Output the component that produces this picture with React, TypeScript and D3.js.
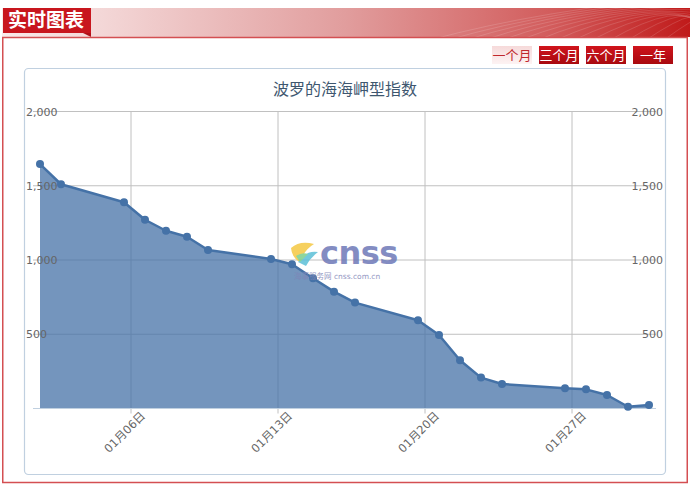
import React from "react";
import * as d3 from "d3";

const days = [2, 3, 6, 7, 8, 9, 10, 13, 14, 15, 16, 17, 20, 21, 22, 23, 24, 27, 28, 29, 30, 31];
const values = [1646, 1510, 1389, 1271, 1197, 1157, 1067, 1007, 971, 877, 787, 713, 594, 495, 325, 208, 165, 136, 129, 91, 12, 24];
const tickDays = [6, 13, 20, 27];
const yTicks = [0, 500, 1000, 1500, 2000];
const buttons = ["一个月", "三个月", "六个月", "一年"];
const title = "波罗的海海岬型指数";
const header = "实时图表";

const H8 = 8 * 3600 * 1000;
const dataDates = days.map((d) => new Date(Date.UTC(2014, 0, d) - H8));
const tickDates = tickDays.map((d) => new Date(Date.UTC(2014, 0, d)));

const fmtTick = (d: Date) => {
  const m = String(d.getUTCMonth() + 1).padStart(2, "0");
  const dd = String(d.getUTCDate()).padStart(2, "0");
  return `${m}月${dd}日`;
};

export default function App() {
  const x = d3.scaleTime().domain([dataDates[0], dataDates[dataDates.length - 1]]).range([40, 649]);
  const y = d3.scaleLinear().domain([0, 2000]).range([408.5, 111.5]);
  const pts = dataDates.map((d, i) => [x(d), y(values[i])] as [number, number]);
  const line = d3.line<[number, number]>().x((p) => p[0]).y((p) => p[1]);
  const area = d3.area<[number, number]>().x((p) => p[0]).y0(y(0)).y1((p) => p[1]);
  const numFmt = d3.format(",");
  const font = "'DejaVu Sans', 'Noto Sans CJK SC', sans-serif";
  const cjk = "'Noto Sans CJK SC', sans-serif";
  const btnX = [492, 539, 586, 633];

  return (
    <svg width={693} height={488} style={{ position: "absolute", left: 0, top: 0 }}>
      <defs>
        <linearGradient id="hdr" x1="0" x2="1" y1="0" y2="0">
          <stop offset="0" stopColor="#f9eaea" />
          <stop offset="0.15" stopColor="#f3d6d6" />
          <stop offset="0.5" stopColor="#e19d9d" />
          <stop offset="0.8" stopColor="#d25c5c" />
          <stop offset="1" stopColor="#c01a1a" />
        </linearGradient>
        <linearGradient id="btn0" x1="0" x2="0" y1="0" y2="1">
          <stop offset="0" stopColor="#f6dada" />
          <stop offset="1" stopColor="#fdf3f3" />
        </linearGradient>
        <linearGradient id="btn1" x1="0" x2="0" y1="0" y2="1">
          <stop offset="0" stopColor="#d0141c" />
          <stop offset="1" stopColor="#a80a10" />
        </linearGradient>
        <clipPath id="hclip">
          <rect x={2} y={8} width={688} height={29} />
        </clipPath>
      </defs>
      <rect width={693} height={488} fill="#fff" />
      {/* header */}
      <rect x={2} y={8} width={688} height={29} fill="url(#hdr)" />
      <g clipPath="url(#hclip)" stroke="#fff" fill="none" strokeOpacity={0.18} strokeWidth={0.8}>
        {d3.range(14).map((i) => (
          <path key={i} d={`M${430 + i * 18},40 Q${540 + i * 14},${10 - i} ${700},${-5 + i * 3}`} />
        ))}
      </g>
      <rect x={3} y={8} width={88} height={25} fill="#c8161e" />
      <path d="M83,33 L91,33 L91,37 Z" fill="#b01018" />
      <text x={8} y={27} fill="#fff" fontSize={19} fontWeight="bold" fontFamily={cjk}>{header}</text>
      {/* content frame */}
      <rect x={2.75} y={37.5} width={684.5} height={445} fill="#fff" stroke="#d44f52" strokeWidth={1.5} />
      {/* buttons */}
      {buttons.map((b, i) => (
        <g key={b}>
          <rect x={btnX[i]} y={46} width={40} height={18} fill={i === 0 ? "url(#btn0)" : "url(#btn1)"} />
          <text x={btnX[i] + 20} y={60} textAnchor="middle" fontSize={13} fontFamily={cjk} fill={i === 0 ? "#c0282d" : "#fff"}>{b}</text>
        </g>
      ))}
      {/* chart box */}
      <rect x={24.5} y={68.5} width={641} height={406} rx={4} fill="#fff" stroke="#c0d0e0" strokeWidth={1.2} />
      <text x={345} y={95} textAnchor="middle" fontSize={16} fontFamily={cjk} fill="#3E576F">{title}</text>
      {/* grid */}
      {yTicks.filter((t) => t > 0).map((t) => (
        <line key={t} x1={33} x2={656} y1={y(t)} y2={y(t)} stroke="#c0c0c0" strokeWidth={1} />
      ))}
      {tickDates.map((d, i) => (
        <line key={i} x1={x(d)} x2={x(d)} y1={y(2000)} y2={y(0) + 5} stroke="#c0c0c0" strokeWidth={1} />
      ))}
      {/* area */}
      <path d={area(pts) || ""} fill="#4572A7" fillOpacity={0.75} />
      <line x1={33} x2={656} y1={y(0)} y2={y(0)} stroke="#c0d0e0" strokeWidth={1} />
      <path d={line(pts) || ""} fill="none" stroke="#4572A7" strokeWidth={2.5} strokeLinejoin="round" />
      {pts.map((p, i) => (
        <circle key={i} cx={p[0]} cy={p[1]} r={4} fill="#4572A7" />
      ))}
      {/* watermark */}
      <g opacity={0.85}>
        <path d="M291,248 Q300,240 314,244 Q304,250 300,262 Q292,258 291,248 Z" fill="#f5c842" />
        <path d="M298,262 Q306,250 318,252 Q310,258 306,266 Z" fill="#5cc0d8" />
        <path d="M296,256 Q302,252 308,254 L300,262 Z" fill="#7ccf8c" />
        <text x={320} y={264} fontSize={32} fontWeight="bold" fontFamily="'DejaVu Sans', sans-serif" fill="#6e79b8" letterSpacing={-0.5}>cnss</text>
        <text x={294} y={279} fontSize={7.5} fontFamily={font} fill="#7f86b8">海事服务网 cnss.com.cn</text>
      </g>
      {/* y labels */}
      {yTicks.filter((t) => t > 0).map((t) => (
        <g key={t}>
          <text x={26} y={y(t) + 4} fontSize={11} fontFamily={font} fill="#666">{numFmt(t)}</text>
          <text x={663} y={y(t) + 4} fontSize={11} fontFamily={font} fill="#666" textAnchor="end">{numFmt(t)}</text>
        </g>
      ))}
      {/* x labels */}
      {tickDates.map((d, i) => (
        <text key={i} transform={`translate(${x(d) + 15},${y(0) + 8}) rotate(-45)`} textAnchor="end" fontSize={11.5} fontFamily={font} fill="#666">{fmtTick(d)}</text>
      ))}
    </svg>
  );
}
